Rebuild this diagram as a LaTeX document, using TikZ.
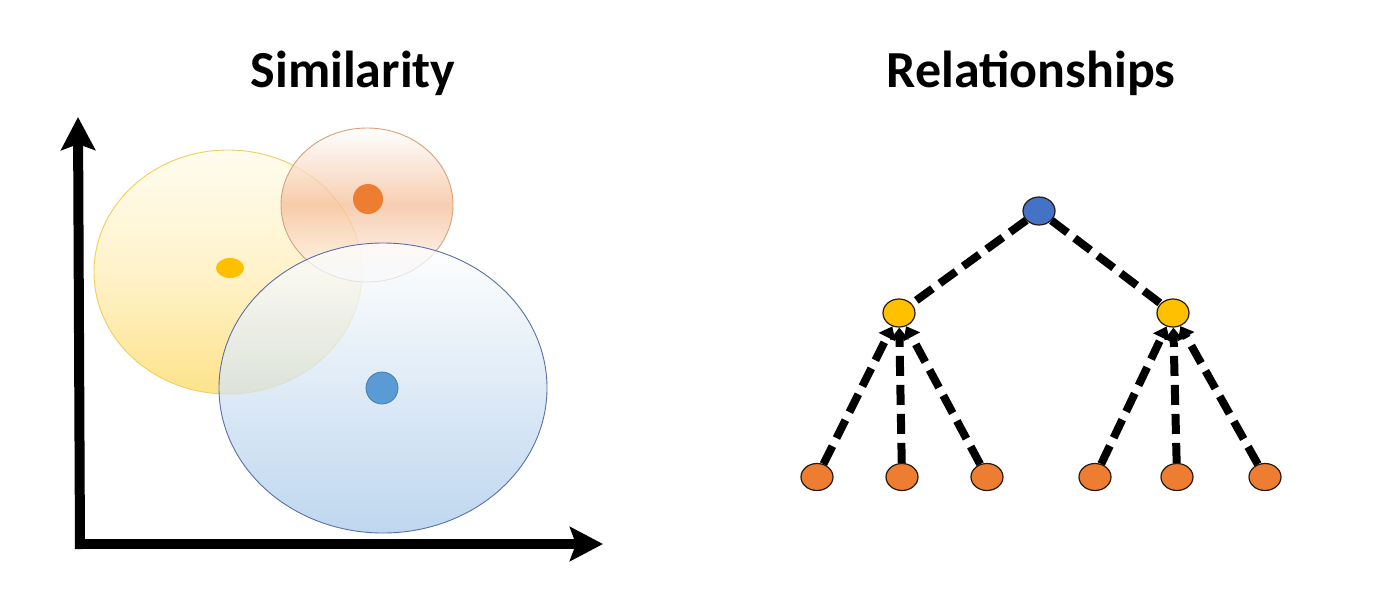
\documentclass[tikz,border=0pt]{standalone}
\usepackage{fontspec}
\setmainfont{Carlito}
\usetikzlibrary{arrows.meta,shapes.geometric}
\definecolor{rootblue}{HTML}{4472C4}
\definecolor{midyellow}{HTML}{FFC000}
\definecolor{leaforange}{HTML}{ED7D31}
\definecolor{ylwline}{HTML}{F2CF5B}
\definecolor{orgline}{HTML}{D9A07A}
\definecolor{blueline}{HTML}{5A6FA8}
\definecolor{dotblue}{HTML}{5B9BD5}
\definecolor{ylwtop}{HTML}{FFFCEB}
\definecolor{ylwmid}{HTML}{FFF0BE}
\definecolor{ylwbot}{HTML}{FDDC6E}
\definecolor{orgmid}{HTML}{F5BE98}
\definecolor{bluebot}{HTML}{A9CAEA}
\tikzset{
  title/.style={font=\bfseries\fontsize{52}{60}\selectfont, anchor=base, inner sep=0pt},
  axis/.style={line width=10pt, -{Stealth[length=33pt,width=34pt,inset=6pt]}},
  treenode/.style={ellipse, draw=black!80!brown, line width=1.2pt, minimum width=32pt, minimum height=28pt, inner sep=0pt},
  leafnode/.style={treenode, minimum height=27pt, fill=leaforange},
  dash edge/.style={line width=8pt, dash pattern=on 20pt off 9pt},
  up edge/.style={dash edge, -{Triangle[length=12pt,width=18pt]}},
}
\begin{document}
\begin{tikzpicture}[x=1pt,y=-1pt]
\useasboundingbox (0,0) rectangle (1400,595);
\fill[white] (0,0) rectangle (1400,595);

% titles
\node[title] (t1) at (353,87) {Similarity};
\node[title] (t2) at (1031,87) {Relationships};

% clusters
\shade[top color=ylwtop, bottom color=ylwbot, middle color=ylwmid, fill opacity=0.8, draw=ylwline, line width=0.9pt]
  (228,272) ellipse [x radius=134, y radius=122];
\shade[top color=white, bottom color=white, middle color=orgmid, fill opacity=0.75, draw=orgline, line width=0.9pt]
  (367,205) ellipse [x radius=86, y radius=77];
\shade[top color=white, bottom color=bluebot, fill opacity=0.75, draw=blueline, line width=0.9pt]
  (383,388) ellipse [x radius=164, y radius=145];

\node[ellipse, fill=midyellow, minimum width=28pt, minimum height=20pt, inner sep=0pt] (dy) at (230,268) {};
\node[circle, fill=leaforange, minimum size=30pt, inner sep=0pt] (do) at (368,199) {};
\node[circle, fill=dotblue, draw=dotblue!80!black, line width=0.8pt, minimum size=32pt, inner sep=0pt] (db) at (382,388) {};

% axes
\coordinate (ytip) at (78,117);
\coordinate (xtip) at (603,544);
\coordinate (ybase) at (80,549);
\coordinate (xbase) at (75,544);
\draw[axis] (ybase) -- (ytip);
\draw[axis] (xbase) -- (xtip);

% tree
\node[treenode, fill=rootblue] (root) at (1039,211) {};
\node[treenode, fill=midyellow] (ya) at (899,313) {};
\node[treenode, fill=midyellow] (yb) at (1173,313) {};
\node[leafnode] (l1) at (817,477) {};
\node[leafnode] (l2) at (902,477) {};
\node[leafnode] (l3) at (987,477) {};
\node[leafnode] (l4) at (1095,477) {};
\node[leafnode] (l5) at (1177,477) {};
\node[leafnode] (l6) at (1265,477) {};

\draw[dash edge] (root) -- (ya);
\draw[dash edge] (root) -- (yb);
\foreach \l in {l1,l2,l3} \draw[up edge] (\l) -- (ya);
\foreach \l in {l4,l5,l6} \draw[up edge] (\l) -- (yb);
\end{tikzpicture}
\end{document}
